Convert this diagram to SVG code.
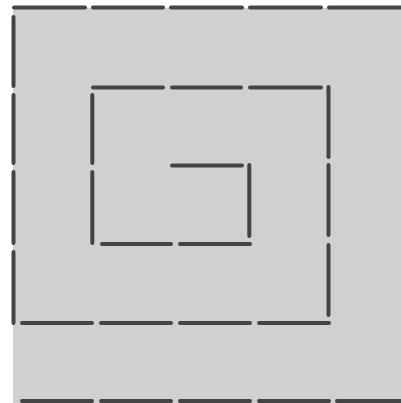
<svg xmlns="http://www.w3.org/2000/svg" width="401" height="403" viewBox="0 0 401 403">
<style>
.bg{fill:#d0d0d0}
.w{stroke:#444;stroke-width:4;stroke-linecap:round;fill:none}
</style>
<rect x="0" y="0" width="401" height="403" fill="#fff"/>
<rect class="bg" x="13" y="8" width="388" height="395"/>
<g id="walls" class="w">
<path d="M14,7.5H85 M93,7.5H163 M171,7.5H242 M250,7.5H321 M329,7.5H406"/>
<path d="M13.5,17V86 M13.5,95V163 M13.5,172V243 M13.5,252V323"/>
<path d="M93,87.5H163 M172,87.5H241 M250,87.5H321"/>
<path d="M92.3,95V163 M92.3,172V243"/>
<path d="M328.5,87V157 M328.5,165V235 M328.5,245V315"/>
<path d="M172,165.5H242"/>
<path d="M249.3,165V236"/>
<path d="M102,244H171 M180,244H250"/>
<path d="M22,323H92 M101,323H171 M180,323H250 M259,323H329"/>
<path d="M22,401H92 M101,401H171 M180,401H250 M259,401H329 M337,401H406"/>
</g>
</svg>
